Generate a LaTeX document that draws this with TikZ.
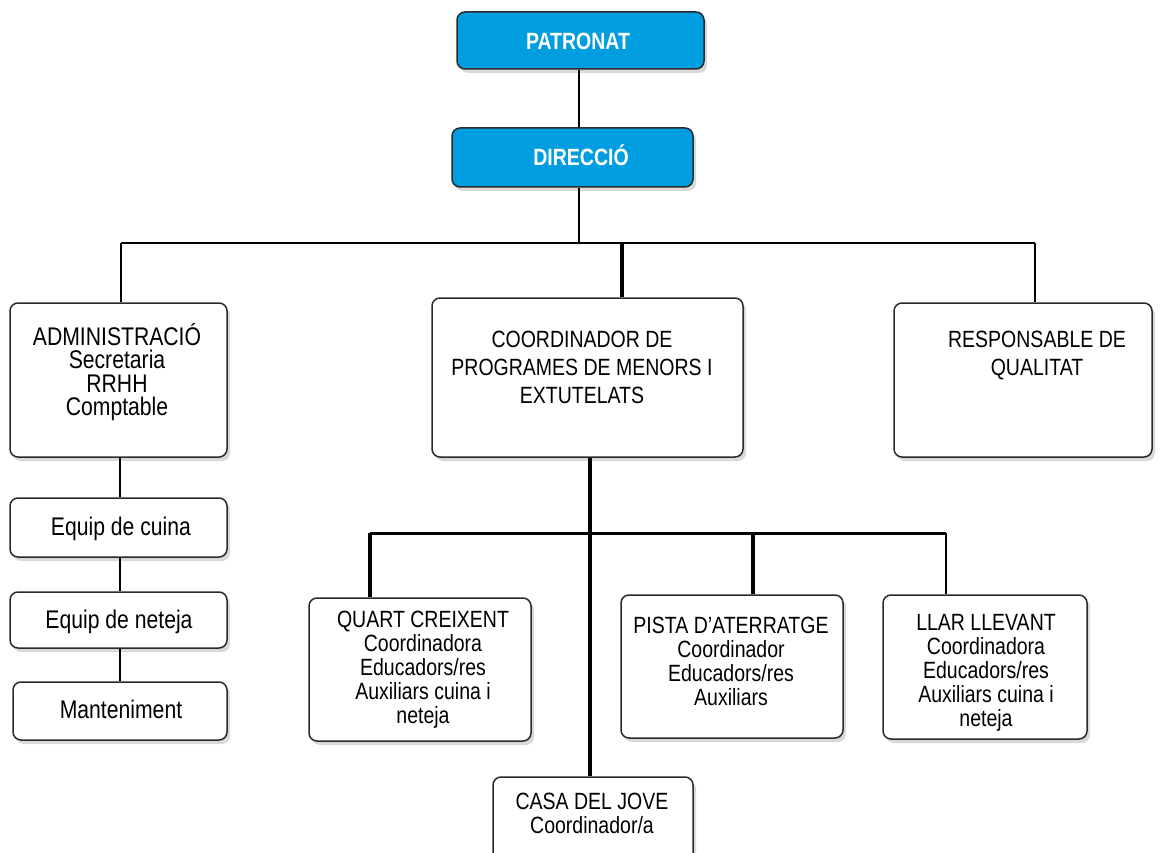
\documentclass[tikz,border=0pt]{standalone}
\usepackage{fontspec}
\setmainfont{Liberation Sans}[FakeStretch=0.83]
\usetikzlibrary{shadows}
\definecolor{boxblue}{HTML}{009EE0}
\definecolor{edge}{HTML}{2A2A2A}
\newcommand{\fh}{\rule{0pt}{24pt}}
\begin{document}
\begin{tikzpicture}[x=1pt,y=-1pt,
  orgbox/.style={draw=edge, line width=1.5pt, rounded corners=8pt, fill=white, inner sep=0pt,
    drop shadow={opacity=0.3, shadow xshift=3pt, shadow yshift=-4pt}},
  bluebox/.style={orgbox, fill=boxblue},
  txt/.style={anchor=north, inner sep=0pt, align=center, font=\fontsize{23.5}{24}\selectfont},
  txtwide/.style={txt, font=\fontsize{23.5}{28}\selectfont},
  txtleft/.style={txt, font=\fontsize{25.5}{23.5}\selectfont},
  single/.style={anchor=base, inner sep=0pt, font=\fontsize{25.5}{28}\selectfont},
  btxt/.style={anchor=base, inner sep=0pt, text=white, font=\fontsize{23.5}{26}\selectfont\bfseries},
  thin/.style={line width=2pt, draw=black},
  thick/.style={line width=3.5pt, draw=black},
  mid/.style={line width=2.6pt, draw=black}]
\useasboundingbox (0,0) rectangle (1161,853);

% boxes
\node[bluebox, minimum width=247pt, minimum height=57pt] (pat) at (580.5,40.5) {};
\node[bluebox, minimum width=241pt, minimum height=59pt] (dir) at (572.5,157.5) {};
\node[orgbox, minimum width=217pt, minimum height=154pt] (admin) at (118.5,380) {};
\node[orgbox, minimum width=217pt, minimum height=59pt] (cuina) at (118.5,527.5) {};
\node[orgbox, minimum width=217pt, minimum height=56pt] (neteja) at (118.5,620) {};
\node[orgbox, minimum width=214pt, minimum height=58pt] (mant) at (120,711) {};
\node[orgbox, minimum width=311pt, minimum height=159pt] (coord) at (587.5,377.5) {};
\node[orgbox, minimum width=258pt, minimum height=154pt] (resp) at (1023,380) {};
\node[orgbox, minimum width=222pt, minimum height=143pt] (quart) at (420,669.5) {};
\node[orgbox, minimum width=222pt, minimum height=143pt] (pista) at (732,666.5) {};
\node[orgbox, minimum width=204pt, minimum height=144pt] (llar) at (985,667) {};
\node[orgbox, minimum width=200pt, minimum height=100pt] (casa) at (593,827) {};

% texts
\node[btxt] (patT) at (578,50) {PATRONAT};
\node[btxt] (dirT) at (581,166) {DIRECCIÓ};
\node[txtleft] (adminT) at (117,321) {\fh ADMINISTRACIÓ\\Secretaria\\RRHH\\Comptable};
\node[single] (cuinaT) at (121,535) {Equip de cuina};
\node[single] (netejaT) at (119,628) {Equip de neteja};
\node[single] (mantT) at (121,718) {Manteniment};
\node[txtwide] (coordT) at (582,323) {\fh COORDINADOR DE\\PROGRAMES DE MENORS I\\EXTUTELATS};
\node[txtwide] (respT) at (1037,323) {\fh RESPONSABLE DE\\QUALITAT};
\node[txt] (quartT) at (423,603) {\fh QUART CREIXENT\\Coordinadora\\Educadors/res\\Auxiliars cuina i\\neteja};
\node[txt] (pistaT) at (731,609) {\fh PISTA D’ATERRATGE\\Coordinador\\Educadors/res\\Auxiliars};
\node[txt] (llarT) at (986,606) {\fh LLAR LLEVANT\\Coordinadora\\Educadors/res\\Auxiliars cuina i\\neteja};
\node[txt] (casaT) at (592,785) {\fh CASA DEL JOVE\\Coordinador/a};

% junction coordinates
\coordinate (jd) at (579,243);
\coordinate (ja) at (121,243);
\coordinate (jc) at (622,243);
\coordinate (jr) at (1035,243);
\coordinate (jq) at (370,533);
\coordinate (jm) at (590,533);
\coordinate (jp) at (753,533);
\coordinate (jl) at (946,533);
\coordinate (xa) at (120,0);

% connectors
\draw[thin] (pat.south -| jd) -- (dir.north -| jd);
\draw[thin] (dir.south -| jd) -- (jd);
\draw[thin] (ja) -- (jr);
\draw[mid] (ja) -- (admin.north -| ja);
\draw[thick] (jc) -- (coord.north -| jc);
\draw[thin] (jr) -- (resp.north -| jr);
\draw[mid] (admin.south -| xa) -- (cuina.north -| xa);
\draw[thin] (cuina.south -| xa) -- (neteja.north -| xa);
\draw[mid] (neteja.south -| xa) -- (mant.north -| xa);
\draw[thick] (coord.south -| jm) -- (casa.north -| jm);
\draw[line width=3pt] (jq) -- (jl);
\draw[thick] (jq) -- (quart.north -| jq);
\draw[thick] (jp) -- (pista.north -| jp);
\draw[mid] (jl) -- (llar.north -| jl);
\end{tikzpicture}
\end{document}
